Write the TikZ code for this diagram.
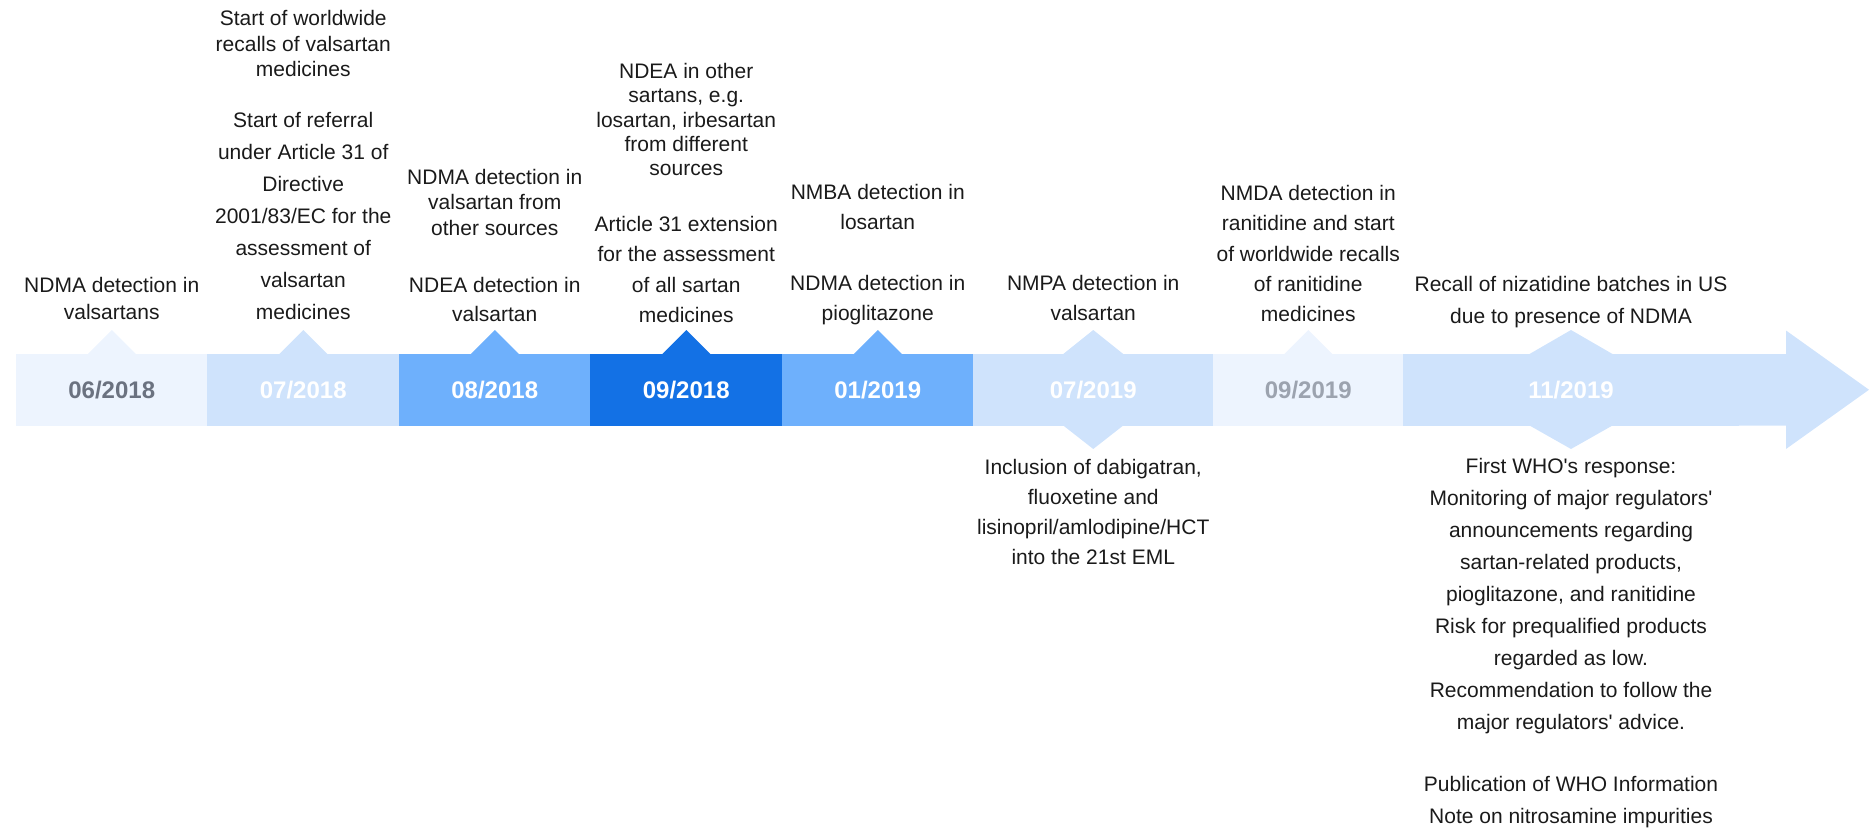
\documentclass[tikz,border=0pt]{standalone}
\usepackage{fontspec}
\setmainfont{Liberation Sans}
\definecolor{cA}{HTML}{EDF4FE}
\definecolor{cB}{HTML}{CFE3FC}
\definecolor{cC}{HTML}{6EB0FC}
\definecolor{cD}{HTML}{1371E5}
\definecolor{gA}{HTML}{6B7280}
\definecolor{gB}{HTML}{9CA3AF}
\definecolor{ink}{HTML}{1A1A1A}
\begin{document}
\begin{tikzpicture}[x=1pt,y=-1pt,
  seg/.style={rectangle, inner sep=0pt, outer sep=0pt, minimum height=71.5pt,
    font=\fontsize{24}{28}\selectfont\bfseries, text=white},
  lbl/.style={anchor=base, align=center, inner sep=0pt, text=ink,
    font=\fontsize{21}{#1}\selectfont}]
\useasboundingbox (0,0) rectangle (1869,829);

% timeline segments
\node[seg, fill=cA, text=gA, minimum width=192pt] (s1) at (111.75,389.75) {06/2018};
\node[seg, fill=cB, minimum width=192pt] (s2) at (303.25,389.75) {07/2018};
\node[seg, fill=cC, minimum width=192pt] (s3) at (494.75,389.75) {08/2018};
\node[seg, fill=cD, minimum width=192pt] (s4) at (686.25,389.75) {09/2018};
\node[seg, fill=cC, minimum width=192pt] (s5) at (877.75,389.75) {01/2019};
\node[seg, fill=cB, minimum width=240pt] (s6) at (1093.25,389.75) {07/2019};
\node[seg, fill=cA, text=gB, minimum width=191pt] (s7) at (1308.25,389.75) {09/2019};
\coordinate (hb) at (1786,389.75);
\coordinate (tip) at (1869,389.75);
\fill[cB] (1403,354) -- (1786,354) -- (1786,330.5) -- (tip) -- (1786,449) -- (1786,425.5) -- (1403,425.5) -- cycle;
\node[seg, fill=cB, minimum width=336pt] (s8) at (1571,389.75) {11/2019};

% pointers
\fill[cA] ([xshift=-24pt]s1.north) -- ([yshift=24pt]s1.north) -- ([xshift=24pt]s1.north) -- cycle;
\fill[cB] ([xshift=-24pt]s2.north) -- ([yshift=24pt]s2.north) -- ([xshift=24pt]s2.north) -- cycle;
\fill[cC] ([xshift=-24pt]s3.north) -- ([yshift=24pt]s3.north) -- ([xshift=24pt]s3.north) -- cycle;
\fill[cD] ([xshift=-24pt]s4.north) -- ([yshift=24pt]s4.north) -- ([xshift=24pt]s4.north) -- cycle;
\fill[cC] ([xshift=-24pt]s5.north) -- ([yshift=24pt]s5.north) -- ([xshift=24pt]s5.north) -- cycle;
\fill[cB] ([xshift=-30pt]s6.north) -- ([yshift=24pt]s6.north) -- ([xshift=30pt]s6.north) -- cycle;
\fill[cB] ([xshift=-30pt]s6.south) -- ([yshift=-23.5pt]s6.south) -- ([xshift=30pt]s6.south) -- cycle;
\fill[cA] ([xshift=-24pt]s7.north) -- ([yshift=24pt]s7.north) -- ([xshift=24pt]s7.north) -- cycle;
\fill[cB] ([xshift=-41.5pt]s8.north) -- ([yshift=24pt]s8.north) -- ([xshift=41.5pt]s8.north) -- cycle;
\fill[cB] ([xshift=-41.5pt]s8.south) -- ([yshift=-23.5pt]s8.south) -- ([xshift=41.5pt]s8.south) -- cycle;

% labels (anchor = baseline of last line)
\node[lbl=26.7] (t1) at (111.75,319.2) {NDMA detection in\\valsartans};
\node[lbl=25.3] (t2a) at (303.25,76.5) {Start of worldwide\\recalls of valsartan\\medicines};
\node[lbl=32] (t2b) at (303.25,319.8) {Start of referral\\under Article 31 of\\Directive\\2001/83/EC for the\\assessment of\\valsartan\\medicines};
\node[lbl=25.8] (t3a) at (494.75,235.8) {NDMA detection in\\valsartan from\\other sources};
\node[lbl=29.3] (t3b) at (494.75,321.8) {NDEA detection in\\valsartan};
\node[lbl=24.3] (t4a) at (686.25,175.8) {NDEA in other\\sartans, e.g.\\losartan, irbesartan\\from different\\sources};
\node[lbl=30.3] (t4b) at (686.25,322.5) {Article 31 extension\\for the assessment\\of all sartan\\medicines};
\node[lbl=30] (t5a) at (877.75,229.8) {NMBA detection in\\losartan};
\node[lbl=30] (t5b) at (877.75,320.8) {NDMA detection in\\pioglitazone};
\node[lbl=30] (t6a) at (1093.25,320.8) {NMPA detection in\\valsartan};
\node[lbl=30] (t6b) at (1093.25,564.2) {Inclusion of dabigatran,\\fluoxetine and\\lisinopril/amlodipine/HCT\\into the 21st EML};
\node[lbl=30.3] (t7) at (1308.25,321.8) {NMDA detection in\\ranitidine and start\\of worldwide recalls\\of ranitidine\\medicines};
\node[lbl=31.4] (t8a) at (1571,323.2) {Recall of nizatidine batches in US\\due to presence of NDMA};
\node[lbl=32] (t8b) at (1571,729.5) {First WHO\textquotesingle s response:\\Monitoring of major regulators\textquotesingle\\announcements regarding\\sartan-related products,\\pioglitazone, and ranitidine\\Risk for prequalified products\\regarded as low.\\Recommendation to follow the\\major regulators\textquotesingle{} advice.};
\node[lbl=32] (t8c) at (1571,823.5) {Publication of WHO Information\\Note on nitrosamine impurities};
\end{tikzpicture}
\end{document}
